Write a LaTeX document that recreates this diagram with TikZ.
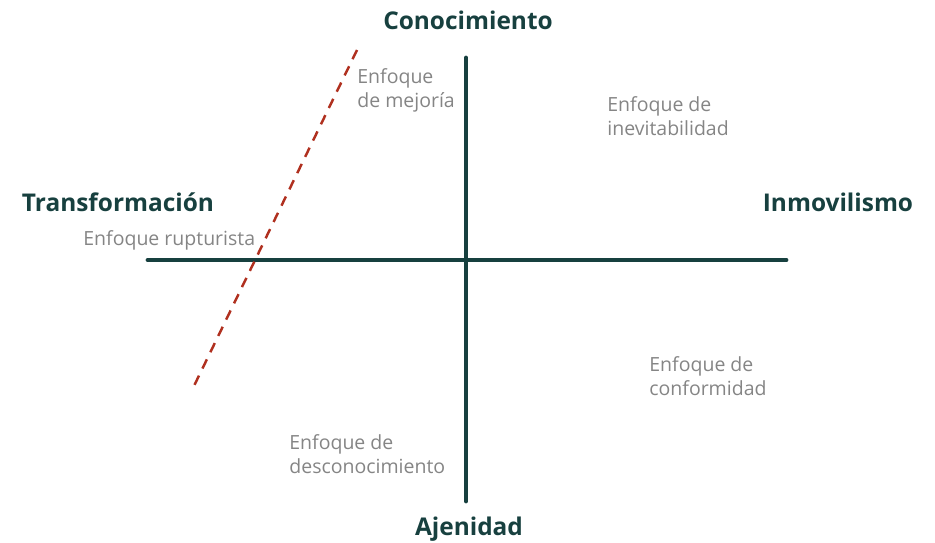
\documentclass[tikz,border=0pt]{standalone}
\usepackage{fontspec}
\setmainfont{Open Sans}
\definecolor{ejeverde}{HTML}{17403F}
\definecolor{rojocorte}{HTML}{B0301F}
\definecolor{grisenfoque}{HTML}{858585}
\begin{document}
\begin{tikzpicture}[x=0.02cm,y=-0.02cm]

      \tikzset{eje/.style={line width=2.8pt, line cap=round, color=ejeverde},
               corte/.style={line width=1.4pt, color=rojocorte, dash pattern=on 5.8pt off 4.5pt},
               polo/.style={font=\bfseries\fontsize{13.9}{16}\selectfont, text=ejeverde, inner sep=0pt},
               enfoque/.style={font=\fontsize{11.1}{13.6}\selectfont, text=grisenfoque, align=left, anchor=west, inner sep=0pt}}
      \useasboundingbox (0,0) rectangle (935,543);
% Ejes
      	\coordinate (izq) at (148,260);
      	\coordinate (der) at (786,260);
      	\coordinate (arr) at (466,58);
      	\coordinate (aba) at (466,501);
      	\coordinate (c1) at (357,50);
      	\coordinate (c2) at (193,388);

% Polos
      	\node[polo] (conoc) at (468,20) {Conocimiento};
      	\node[polo] (ajen) at (469,529) {Ajenidad};
      	\node[polo] (transf) at (118,202) {Transformación};
      	\node[polo] (inmov) at (838,202) {Inmovilismo};

% Enfoques
      	\node[enfoque] (mejora) at (357,90) {Enfoque\\de mejoría};
      	\node[enfoque] (inevit) at (607,116) {Enfoque de\\inevitabilidad};
      	\node[enfoque] (ruptur) at (83,240) {Enfoque rupturista};
      	\node[enfoque] (conform) at (649,376) {Enfoque de\\conformidad};
      	\node[enfoque] (descon) at (289,454) {Enfoque de\\desconocimiento};

% Lineas
		\draw[eje] (izq) -- (der);
		\draw[eje] (arr) -- (aba);
		\draw[corte] (c1) -- (c2);

	\end{tikzpicture}
\end{document}
